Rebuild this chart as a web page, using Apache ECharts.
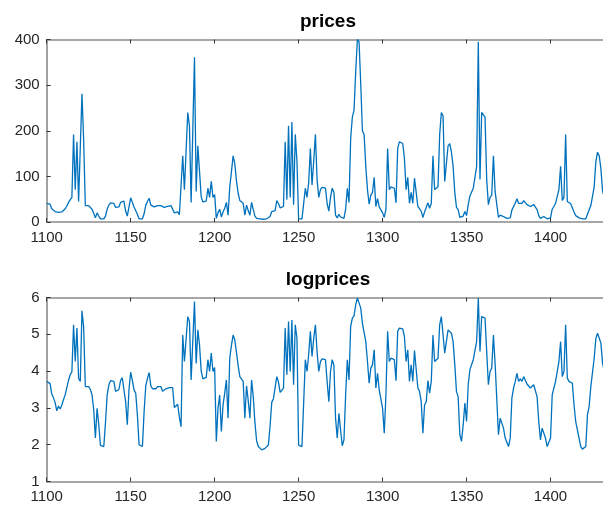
<!DOCTYPE html>
<html>
<head>
<meta charset="utf-8">
<script src="https://cdn.jsdelivr.net/npm/echarts@6/dist/echarts.min.js"></script>
<style>
html,body{margin:0;padding:0;background:#fff;overflow:hidden;width:603px;height:506px;}
#chart{width:614px;height:506px;}
</style>
</head>
<body>
<div id="chart"></div>
<script>
// ---- data (x = 1100, 1101, ...) ----
const xStart = 1100;
const prices = [
41,40,39,29,27,23,19,21,19,22, 25,29,35,43,49,54,192,71,176,45,
41,281,181,36,37,36,33,28,19,9, 20,13,7,7,7,13,28,37,42,40,
41,32,31,33,43,46,46,24,13,33, 53,43,33,30,17,7,7,7,18,37,
45,52,37,34,33,34,36,37,36,32, 32,34,34,35,36,35,20,21,22,16,
12,145,71,72,240,211,43,45,361,67, 167,111,55,44,45,46,74,54,89,54,
60,8,20,28,11,22,30,43,15,77, 110,145,128,90,63,47,49,41,15,37,
25,15,43,27,13,8,7,7,6,6, 7,7,7,12,23,26,25,47,40,31,
30,34,176,49,211,54,219,38,192,134, 7,7,7,7,74,54,86,161,81,133,
192,93,54,71,76,77,74,40,24,54, 74,65,15,9,17,11,7,8,28,74,
43,183,230,245,330,400,395,302,200,192, 122,71,39,59,65,98,34,51,33,33,
20,10,28,161,71,77,77,74,42,161, 176,176,172,140,71,98,41,65,41,96,
93,34,32,24,10,22,24,42,30,41, 145,71,74,77,192,240,233,89,85,167,
172,153,122,65,32,27,10,8,13,23, 14,38,57,54,74,77,122,395,93,240,
240,230,93,38,54,59,145,67,67,10, 15,15,12,9,8,7,9,26,34,41,
51,41,44,41,47,45,38,37,34,34, 38,39,27,14,8,12,12,9,7,7,
9,28,34,41,43,71,122,47,54,192, 45,41,40,39,22,14,14,9,7,7,
6,7,17,21,36,36,77,133,153,145, 117,67,55
];
const logprices = [
3.72,3.70,3.66,3.38,3.28,3.15,2.92,3.05,2.97,3.08, 3.22,3.36,3.55,3.75,3.90,3.98,5.26,4.26,5.17,3.80,
3.72,5.64,5.20,3.58,3.62,3.58,3.50,3.35,2.95,2.18, 2.99,2.55,1.98,1.95,1.95,2.60,3.35,3.62,3.74,3.70,
3.72,3.45,3.43,3.50,3.75,3.82,3.83,3.17,2.54,3.50, 3.97,3.75,3.49,3.40,2.81,2.00,1.95,1.95,2.90,3.60,
3.80,3.96,3.60,3.52,3.49,3.52,3.58,3.60,3.58,3.45, 3.48,3.52,3.53,3.55,3.58,3.55,3.01,3.05,3.10,2.75,
2.49,4.98,4.26,4.28,5.48,5.35,3.76,3.81,5.89,4.21, 5.12,4.71,4.00,3.79,3.80,3.83,4.31,3.99,4.49,3.99,
4.10,2.09,3.00,3.35,2.36,3.08,3.40,3.76,2.72,4.35, 4.70,4.98,4.85,4.50,4.15,3.85,3.90,3.72,2.72,3.60,
3.20,2.72,3.76,3.30,2.60,2.10,1.95,1.90,1.86,1.83, 1.90,1.95,1.99,2.50,3.15,3.25,3.22,3.85,3.70,3.42,
3.40,3.54,5.17,3.90,5.35,3.99,5.39,3.63,5.26,4.90, 1.99,1.95,1.95,1.99,4.31,3.99,4.45,5.08,4.40,4.89,
5.26,4.53,3.99,4.26,4.33,4.35,4.31,3.70,3.17,3.99, 4.31,4.17,2.72,2.18,2.85,2.40,1.97,2.13,3.35,4.31,
3.76,5.21,5.44,5.50,5.80,5.99,5.98,5.71,5.30,5.26, 4.80,4.26,3.67,4.08,4.17,4.58,3.54,3.94,3.49,3.50,
2.99,2.31,3.35,5.08,4.26,4.35,4.35,4.31,3.74,5.08, 5.17,5.17,5.15,4.94,4.26,4.58,3.72,4.17,3.72,4.56,
4.53,3.54,3.45,3.17,2.31,3.08,3.17,3.74,3.40,3.72, 4.98,4.26,4.31,4.35,5.26,5.48,5.45,4.49,4.44,5.12,
5.15,5.03,4.80,4.17,3.45,3.30,2.27,2.09,2.54,3.13, 2.63,3.63,4.04,3.99,4.31,4.35,4.80,5.98,4.53,5.48,
5.48,5.44,4.53,3.63,3.99,4.08,4.98,4.21,4.21,2.27, 2.72,2.72,2.45,2.18,2.13,1.95,2.18,3.27,3.54,3.72,
3.94,3.72,3.79,3.72,3.85,3.81,3.65,3.61,3.54,3.54, 3.63,3.67,3.30,2.63,2.13,2.45,2.49,2.18,1.95,1.95,
2.18,3.35,3.54,3.72,3.76,4.26,4.80,3.85,3.99,5.26, 3.81,3.72,3.70,3.67,3.08,2.63,2.61,2.18,1.95,1.88,
1.83,1.95,2.81,3.04,3.58,3.58,4.35,4.89,5.03,4.98, 4.76,4.21,4.00
];
const xTickLabels = [1100, 1150, 1200, 1250, 1300, 1350, 1400];
const pricesTicks = [0, 100, 200, 300, 400];
const logTicks = [1, 2, 3, 4, 5, 6];
const titles = ['prices', 'logprices'];
const xMax = 1435;

// ---- chart ----
const chart = echarts.init(document.getElementById('chart'), null, {renderer: 'canvas'});
const FONT = '"Liberation Sans", Arial, Helvetica, sans-serif';
const frame = {show: true, onZero: false, lineStyle: {color: '#8a8a8a', width: 1.6}};
const tickIn = {show: true, inside: true, length: 4, lineStyle: {color: '#333', width: 1}};
const xStep = xTickLabels[1] - xTickLabels[0];

function xAx(grid, pos, labels) {
  return {
    type: 'value', gridIndex: grid, position: pos,
    min: xTickLabels[0], max: xMax, interval: xStep,
    axisLine: frame, axisTick: tickIn, splitLine: {show: false},
    axisLabel: labels ? {
      show: true, margin: 8, color: '#262626', fontSize: 15, fontFamily: FONT,
      formatter: v => (xTickLabels.indexOf(v) >= 0 ? String(v) : '')
    } : {show: false}
  };
}
function yAx(grid, ticks) {
  return {
    type: 'value', gridIndex: grid, position: 'left',
    min: ticks[0], max: ticks[ticks.length - 1], interval: ticks[1] - ticks[0],
    axisLine: frame, axisTick: tickIn, splitLine: {show: false},
    axisLabel: {show: true, margin: 7, color: '#262626', fontSize: 15, fontFamily: FONT}
  };
}
const pts = arr => arr.map((v, i) => [xStart + i, v]);

chart.setOption({
  animation: false,
  backgroundColor: '#ffffff',
  grid: [
    {left: 46.7, top: 39.5, width: 562.6, height: 182.5},
    {left: 46.7, top: 297.5, width: 562.6, height: 184}
  ],
  xAxis: [xAx(0, 'bottom', true), xAx(0, 'top', false), xAx(1, 'bottom', true), xAx(1, 'top', false)],
  yAxis: [yAx(0, pricesTicks), yAx(1, logTicks)],
  series: [
    {type: 'line', xAxisIndex: 0, yAxisIndex: 0, data: pts(prices), showSymbol: false, symbol: 'none',
     lineStyle: {color: '#0072BD', width: 1.3}, clip: true},
    {type: 'line', xAxisIndex: 2, yAxisIndex: 1, data: pts(logprices), showSymbol: false, symbol: 'none',
     lineStyle: {color: '#0072BD', width: 1.3}, clip: true}
  ],
  graphic: [
    {type: 'text', x: 328, y: 22, style: {text: titles[0], fill: '#000', font: 'bold 19px ' + FONT, textAlign: 'center', textVerticalAlign: 'middle'}},
    {type: 'text', x: 328, y: 280, style: {text: titles[1], fill: '#000', font: 'bold 19px ' + FONT, textAlign: 'center', textVerticalAlign: 'middle'}}
  ]
});
</script>
</body>
</html>
